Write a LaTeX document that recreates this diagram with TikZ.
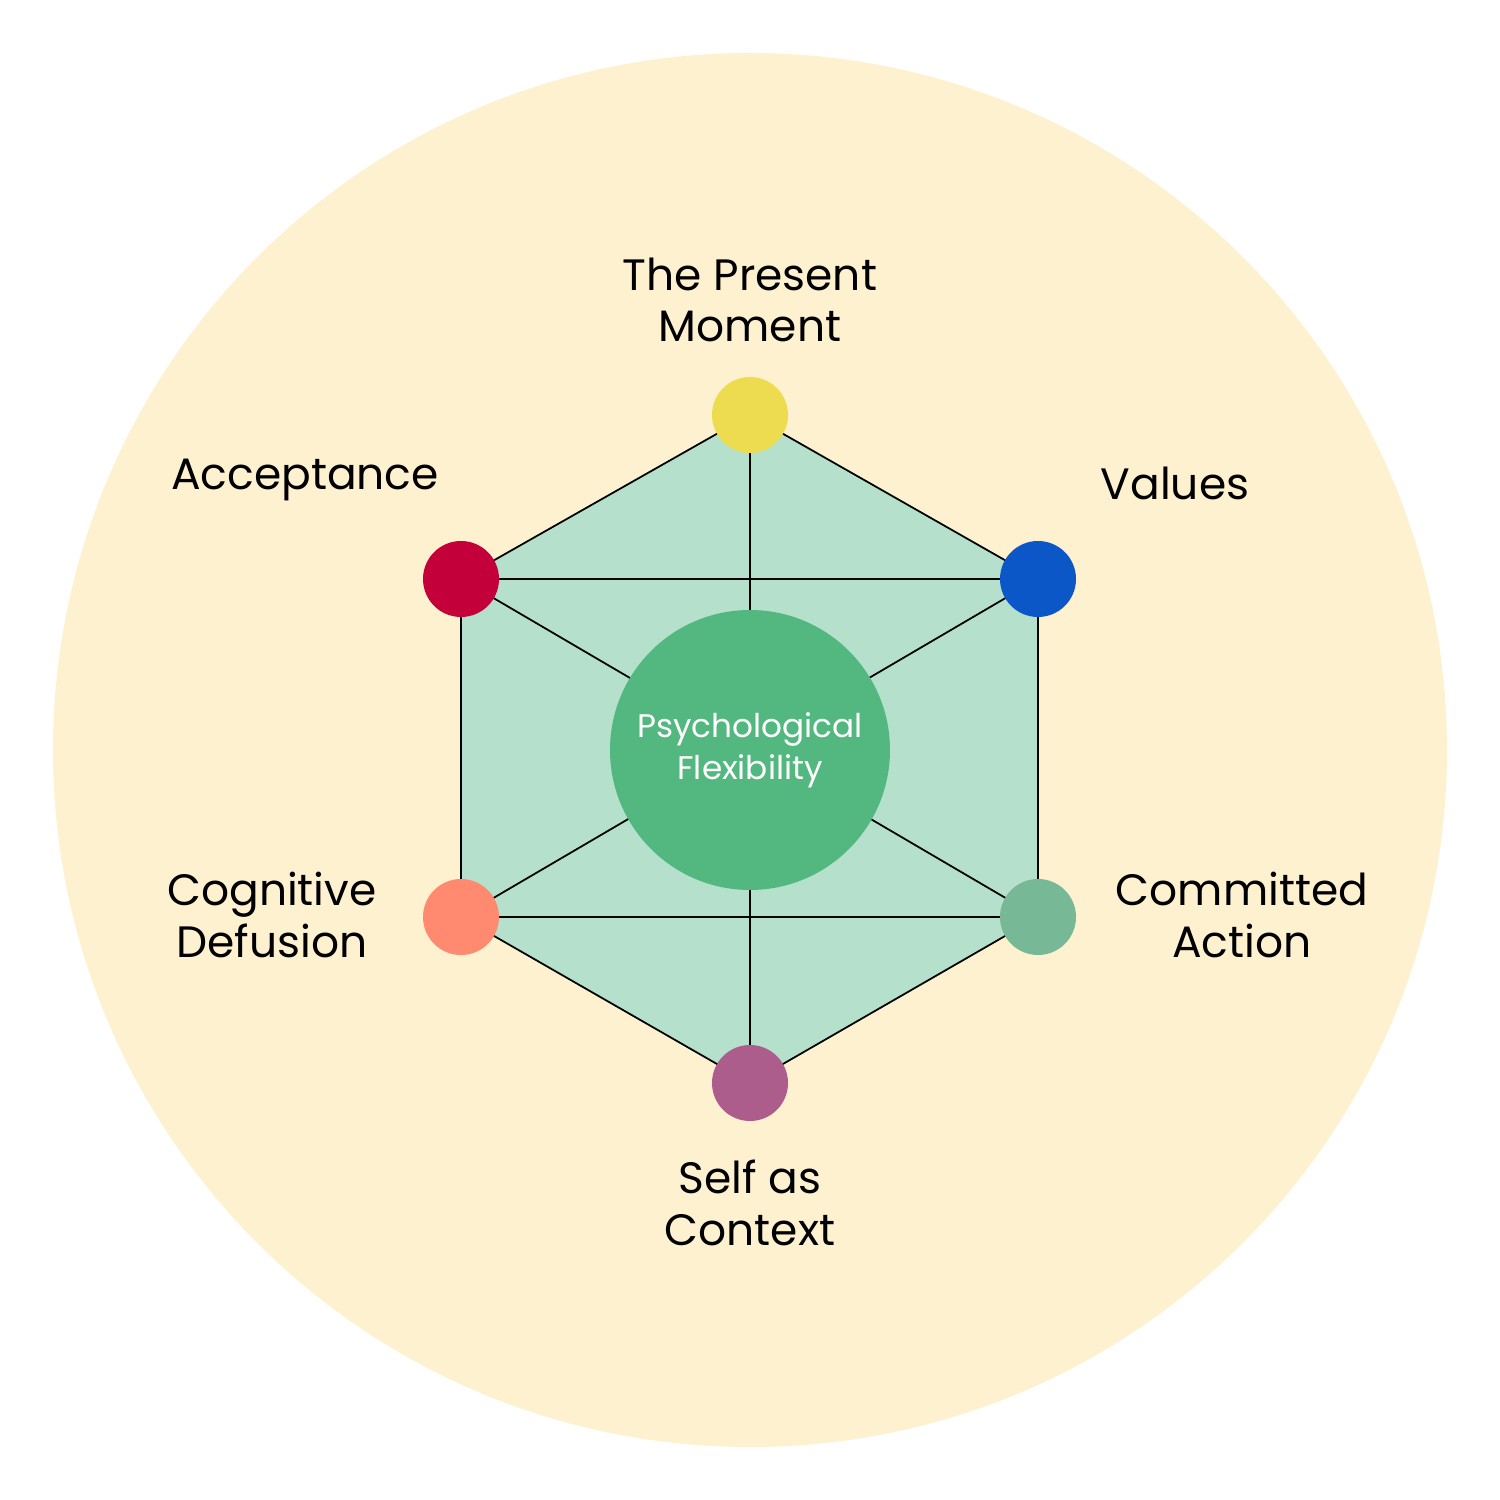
\documentclass[tikz,border=0pt]{standalone}
\usepackage{fontspec}
\setmainfont{Poppins}
\usetikzlibrary{positioning}
\definecolor{bgyellow}{HTML}{FEF1CF}
\definecolor{hexfill}{HTML}{B5E0CB}
\definecolor{pmcol}{HTML}{EDDC4F}
\definecolor{valcol}{HTML}{0B57C7}
\definecolor{acccol}{HTML}{C4003A}
\definecolor{defcol}{HTML}{FF8A70}
\definecolor{comcol}{HTML}{77B896}
\definecolor{selfcol}{HTML}{AD5D8C}
\definecolor{flexcol}{HTML}{53B880}
\tikzset{
  dot/.style={circle,minimum size=0.76cm,inner sep=0pt},
  lbl/.style={align=center,font=\fontsize{12.5}{14.7}\selectfont},
  link/.style={black,line width=0.5pt}
}
\begin{document}
\begin{tikzpicture}
\useasboundingbox (0,0) rectangle (15,15);
% background
\fill[bgyellow] (7.5,7.5) circle (6.97);

% hexagon corners
\coordinate (cpm) at (7.50,10.85);
\coordinate (cval) at (10.38,9.21);
\coordinate (ccom) at (10.38,5.83);
\coordinate (cself) at (7.50,4.17);
\coordinate (cdef) at (4.61,5.83);
\coordinate (cacc) at (4.61,9.21);

\fill[hexfill] (cpm) -- (cval) -- (ccom) -- (cself) -- (cdef) -- (cacc) -- cycle;

% links
\draw[link] (cpm) -- (cval) -- (ccom) -- (cself) -- (cdef) -- (cacc) -- cycle;
\draw[link] (cpm) -- (cself);
\draw[link] (cacc) -- (cval);
\draw[link] (cdef) -- (ccom);
\draw[link] (cacc) -- (ccom);
\draw[link] (cval) -- (cdef);

% centre
\node[circle,fill=flexcol,minimum size=2.8cm,inner sep=0pt,text=white,align=center,
  font=\fontsize{9.3}{11.9}\selectfont] (flex) at (7.5,7.5) {Psychological\\Flexibility};

% dots
\node[dot,fill=pmcol] (pm) at (cpm) {};
\node[dot,fill=valcol] (val) at (cval) {};
\node[dot,fill=comcol] (com) at (ccom) {};
\node[dot,fill=selfcol] (self) at (cself) {};
\node[dot,fill=defcol] (def) at (cdef) {};
\node[dot,fill=acccol] (acc) at (cacc) {};

% labels
\node[lbl] (pmlbl) at (7.50,12.00) {The Present\\Moment};
\node[lbl] (acclbl) at (3.05,10.20) {Acceptance};
\node[lbl] (vallbl) at (11.75,10.17) {Values};
\node[lbl] (deflbl) at (2.72,5.85) {Cognitive\\Defusion};
\node[lbl] (comlbl) at (12.42,5.85) {Committed\\Action};
\node[lbl] (selflbl) at (7.50,2.97) {Self as\\Context};
\end{tikzpicture}
\end{document}
